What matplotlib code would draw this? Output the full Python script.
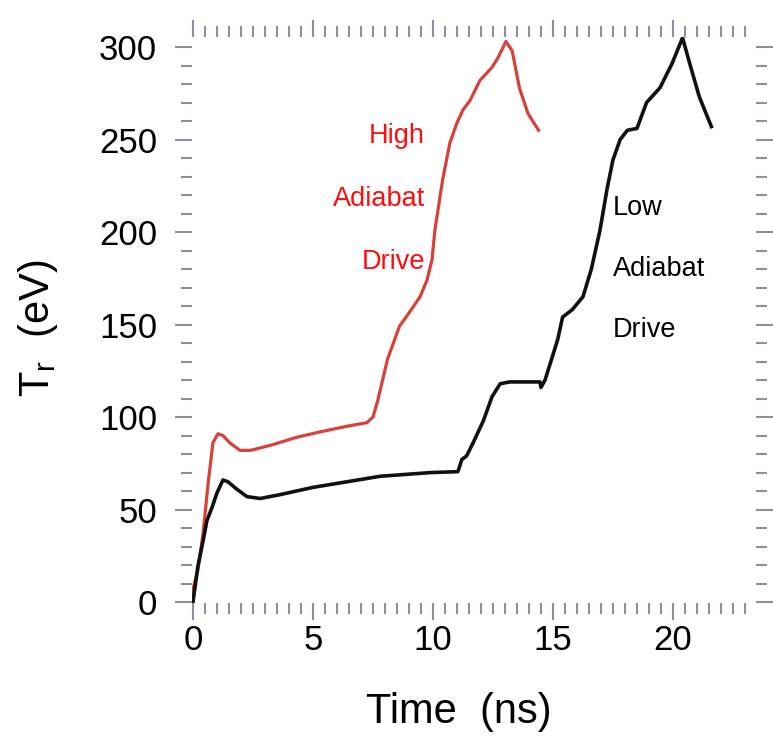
import matplotlib
matplotlib.use("Agg")
import matplotlib.pyplot as plt
from matplotlib.ticker import MultipleLocator

plt.rcParams['font.family'] = ['Liberation Sans', 'DejaVu Sans']

# high adiabat drive (red)
t_high = [0, 0.02, 0.2, 0.42, 0.63, 0.83, 1.04, 1.25, 1.54, 1.96, 2.4, 3.3, 4.3,
          5.3, 6.4, 7.25, 7.5, 7.7, 8.1, 8.6, 9.04, 9.46, 9.75, 9.96, 10.08, 10.4,
          10.7, 11.0, 11.25, 11.54, 11.96, 12.46, 12.7, 13.04, 13.3, 13.6, 13.96, 14.4]
T_high = [0, 8, 17, 37, 64, 86, 91, 90, 86, 82, 82, 85, 89,
          92, 95, 97, 100, 109, 131, 149, 157, 165, 174, 185, 201, 228,
          248, 259, 266, 271, 282, 289, 294, 303, 298, 278, 264, 255]

# low adiabat drive (black)
t_low = [0, 0.2, 0.42, 0.58, 0.79, 1.0, 1.25, 1.46, 1.83, 2.25, 2.8, 3.6, 5.0,
         6.4, 7.8, 9.9, 11.04, 11.2, 11.4, 11.67, 12.1, 12.46, 12.8, 13.2, 14.04,
         14.46, 14.5, 14.67, 14.96, 15.2, 15.4, 15.8, 16.25, 16.6, 16.96, 17.25,
         17.5, 17.8, 18.1, 18.5, 18.9, 19.46, 19.96, 20.4, 20.7, 21.1, 21.6]
T_low = [0, 19, 33, 44, 51, 59, 66, 65, 61, 57, 56, 58, 62,
         65, 68, 70, 70.5, 77, 79, 86, 98, 111, 118, 119, 119,
         119, 116, 120, 132, 142, 154, 158, 165, 180, 201, 223,
         239, 250, 255, 256, 270, 278, 291, 305, 291, 273, 257]

high_label = ["High", "Adiabat", "Drive"]
low_label = ["Low", "Adiabat", "Drive"]

fig = plt.figure(figsize=(7.73, 7.42), dpi=100)
ax = fig.add_axes([0.2484, 0.1873, 0.7296, 0.7628])

ax.plot(t_high, T_high, color='#d8413a', lw=2.3, solid_joinstyle='round')
ax.plot(t_low, T_low, color='#111111', lw=2.6, solid_joinstyle='round')

# labels next to the curves
for txt, yy in zip(high_label, [252, 218, 184]):
    ax.text(9.67, yy, txt, color='#ff0d0d', fontsize=19.5, ha='right', va='center')
for txt, yy in zip(low_label, [213, 180, 147]):
    ax.text(17.5, yy, txt, color='black', fontsize=19.5, ha='left', va='center')

ax.set_xlim(-0.04, 23.46)
ax.set_ylim(-0.5, 305.4)
ax.set_xticks([0, 5, 10, 15, 20])
ax.set_yticks([0, 50, 100, 150, 200, 250, 300])
ax.xaxis.set_minor_locator(MultipleLocator(0.5))
ax.yaxis.set_minor_locator(MultipleLocator(10))

for s in ax.spines.values():
    s.set_visible(False)

ax.tick_params(which='both', direction='out', top=True, right=True,
               color='#8a8f99', width=1.5)
ax.tick_params(which='major', length=12, labelsize=25)
ax.tick_params(which='minor', length=8)
ax.tick_params(axis='y', which='major', pad=13)
ax.tick_params(axis='x', which='major', pad=3)

ax.set_xlabel("Time  (ns)", fontsize=30)
ax.set_ylabel("T$_\\mathregular{r}$  (eV)", fontsize=30)
ax.xaxis.set_label_coords(0.473, -0.157)
ax.yaxis.set_label_coords(-0.234, 0.486)

fig.savefig("out.png", dpi=100, facecolor='white')
